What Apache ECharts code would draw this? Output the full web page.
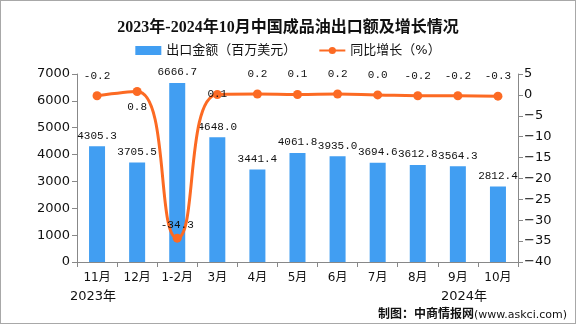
<!DOCTYPE html>
<html>
<head>
<meta charset="utf-8">
<script src="https://cdn.jsdelivr.net/npm/echarts@6/dist/echarts.min.js"></script>
<style>
  html, body { margin: 0; padding: 0; background: #fff; }
  #chart { width: 574px; height: 322px; border: 1px solid #a8a8a8; }
</style>
</head>
<body>
<div id="chart"></div>
<script>
// Monthly refined-oil export value and year-on-year growth
const months = ['11月', '12月', '1-2月', '3月', '4月', '5月', '6月', '7月', '8月', '9月', '10月'];
const exportValue = [4305.3, 3705.5, 6666.7, 4648.0, 3441.4, 4061.8, 3935.0, 3694.6, 3612.8, 3564.3, 2812.4];
const growthRate = [-0.2, 0.8, -34.3, 0.1, 0.2, 0.1, 0.2, 0.0, -0.2, -0.2, -0.3];
const leftTicks = { min: 0, max: 7000, interval: 1000 };
const rightTicks = { min: -40, max: 5, interval: 5 };

const cjk = '"Liberation Serif", "Noto Sans CJK SC", serif';
const mono = '"Liberation Mono", "DejaVu Sans Mono", monospace';
const sans = '"DejaVu Sans", "Noto Sans CJK SC", sans-serif';

// per-point label placement for the growth line
const growthLabelPos = ['top', 'bottom', 'top', 'inside', 'top', 'top', 'top', 'top', 'top', 'top', 'top'];
const growthLabelDist = [10, 6, 3, 0, 10, 10, 10, 10, 10, 10, 10];

const chart = echarts.init(document.getElementById('chart'));
chart.setOption({
  animation: false,
  title: {
    text: '2023年-2024年10月中国成品油出口额及增长情况',
    left: 'center',
    top: 14,
    textStyle: { fontSize: 16, fontWeight: 'bold', color: '#111', fontFamily: cjk }
  },
  legend: {
    top: 38,
    left: 'center',
    itemGap: 22,
    itemWidth: 26,
    itemHeight: 9,
    textStyle: { fontSize: 13, color: '#111', fontFamily: sans },
    data: [
      { name: '出口金额（百万美元）', icon: 'rect' },
      { name: '同比增长（%）' }
    ]
  },
  grid: { left: 76, right: 57, top: 73, bottom: 61 },
  xAxis: {
    type: 'category',
    data: months,
    axisLine: { lineStyle: { color: '#888' } },
    axisTick: { show: true, alignWithLabel: false, length: 5, lineStyle: { color: '#888' } },
    axisLabel: { color: '#111', fontSize: 12, margin: 10, interval: 0, fontFamily: sans }
  },
  yAxis: [
    {
      type: 'value',
      min: leftTicks.min, max: leftTicks.max, interval: leftTicks.interval,
      splitLine: { show: false },
      axisLine: { show: true, lineStyle: { color: '#888' } },
      axisTick: { show: true, length: 5, lineStyle: { color: '#888' } },
      axisLabel: { color: '#111', fontSize: 13, margin: 7, fontFamily: sans, formatter: v => String(v) }
    },
    {
      type: 'value',
      min: rightTicks.min, max: rightTicks.max, interval: rightTicks.interval,
      splitLine: { show: false },
      axisLine: { show: true, lineStyle: { color: '#888' } },
      axisTick: { show: true, length: 5, lineStyle: { color: '#888' } },
      axisLabel: {
        color: '#111', fontSize: 13, margin: 6, fontFamily: sans,
        formatter: v => (v < 0 ? '\u2212' + Math.abs(v) : String(v))
      }
    }
  ],
  series: [
    {
      name: '出口金额（百万美元）',
      type: 'bar',
      barWidth: 16,
      itemStyle: { color: '#419ef2' },
      label: {
        show: true, position: 'top', distance: 5,
        color: '#111', fontSize: 11, fontFamily: mono,
        formatter: p => p.value.toFixed(1)
      },
      data: exportValue
    },
    {
      name: '同比增长（%）',
      type: 'line',
      yAxisIndex: 1,
      smooth: 0.5,
      symbol: 'circle',
      symbolSize: 9,
      lineStyle: { color: '#fc6a23', width: 3 },
      itemStyle: { color: '#fc6a23' },
      z: 5,
      data: growthRate.map((v, i) => ({
        value: v,
        label: {
          show: true,
          position: growthLabelPos[i],
          distance: growthLabelDist[i],
          color: '#111', fontSize: 11, fontFamily: mono,
          formatter: p => p.value.toFixed(1)
        }
      }))
    }
  ],
  graphic: [
    { type: 'text', left: 69, top: 289, style: { text: '2023年', fill: '#111', font: '13px ' + sans } },
    { type: 'text', left: 440, top: 289, style: { text: '2024年', fill: '#111', font: '13px ' + sans } },
    {
      type: 'text', right: 8, top: 308,
      style: {
        text: '{a|制图：中商情报网}{b|(www.askci.com)}',
        rich: {
          a: { fontSize: 12, fontWeight: 'bold', fill: '#111', fontFamily: sans },
          b: { fontSize: 11, fill: '#111', fontFamily: sans }
        }
      }
    }
  ]
});
</script>
</body>
</html>
